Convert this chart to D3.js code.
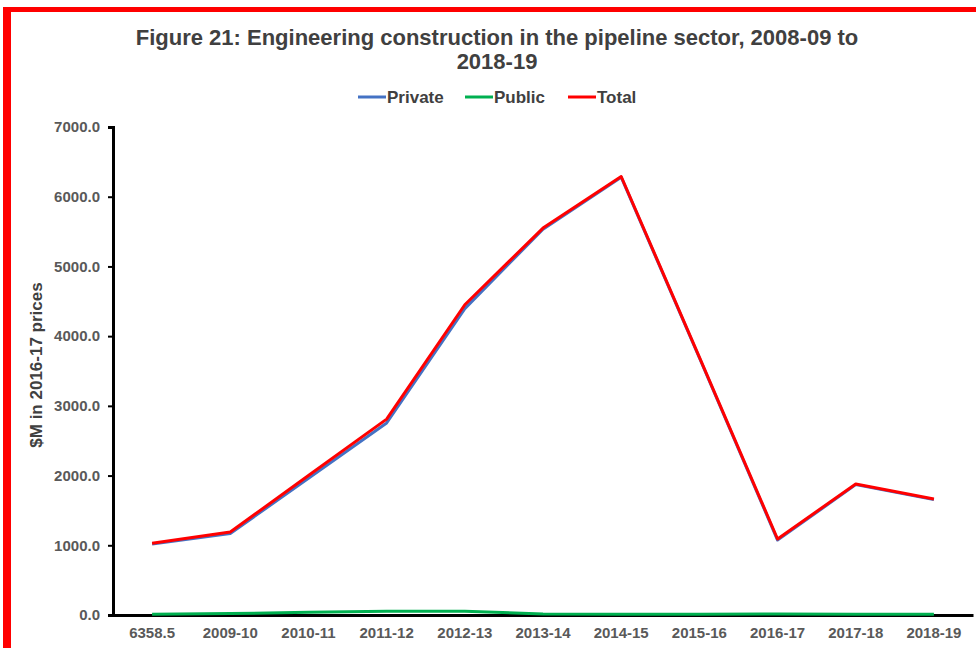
<!DOCTYPE html>
<html>
<head>
<meta charset="utf-8">
<script src="https://cdn.jsdelivr.net/npm/d3@7"></script>
<style>
  body { margin: 0; background: #fff; }
  svg { display: block; font-family: "Liberation Sans", Arial, sans-serif; }
</style>
</head>
<body>
<div id="chart"></div>
<script>
// data
var years = ["6358.5", "2009-10", "2010-11", "2011-12", "2012-13", "2013-14", "2014-15", "2015-16", "2016-17", "2017-18", "2018-19"];
var total = [1030, 1190, 2000, 2810, 4450, 5550, 6290, 3700, 1090, 1880, 1665];
var publicVals = [10, 20, 40, 55, 55, 15, 10, 10, 15, 10, 10];
var privateVals = [1020, 1170, 1960, 2755, 4395, 5535, 6280, 3690, 1075, 1870, 1655];
var yTicks = [0, 1000, 2000, 3000, 4000, 5000, 6000, 7000];

var width = 976, height = 648;
var margin = {left: 113, right: 3, top: 127, bottom: 33};

var svg = d3.select("#chart").append("svg")
    .attr("width", width)
    .attr("height", height);

// red frame (top and left)
svg.append("rect").attr("x", 3).attr("y", 7).attr("width", width - 3).attr("height", 5).attr("fill", "#ff0000");
svg.append("rect").attr("x", 3).attr("y", 7).attr("width", 8).attr("height", height - 7).attr("fill", "#ff0000");

var x = d3.scaleBand()
    .domain(years)
    .range([margin.left, width - margin.right]);

var y = d3.scaleLinear()
    .domain([0, 7000])
    .range([height - margin.bottom, margin.top]);

// title
var title = svg.append("text")
    .attr("text-anchor", "middle")
    .attr("fill", "#404040")
    .style("font-size", "22px")
    .style("font-weight", "bold");
title.append("tspan").attr("x", 497).attr("y", 45).text("Figure 21: Engineering construction in the pipeline sector, 2008-09 to");
title.append("tspan").attr("x", 497).attr("y", 69).text("2018-19");

// legend
var legendItems = [
  {name: "Private", color: "#4472c4", x: 358},
  {name: "Public", color: "#00b050", x: 465},
  {name: "Total", color: "#ff0000", x: 568}
];
var lg = svg.selectAll(".lg").data(legendItems).enter().append("g")
    .attr("transform", function(d){ return "translate(" + d.x + ",97)"; });
lg.append("line").attr("x1", 0).attr("x2", 28).attr("y1", 0).attr("y2", 0)
    .attr("stroke", function(d){ return d.color; })
    .attr("stroke-width", 3);
lg.append("text").attr("x", 29).attr("y", 6)
    .attr("fill", "#404040")
    .style("font-size", "17px")
    .style("font-weight", "bold")
    .text(function(d){ return d.name; });

// y axis
var yAxis = svg.append("g")
    .attr("transform", "translate(" + margin.left + ",0)")
    .call(d3.axisLeft(y).tickValues(yTicks).tickSize(5).tickFormat(d3.format(".1f")));
yAxis.select(".domain").attr("stroke", "#000").attr("stroke-width", 3);
yAxis.selectAll(".tick line").attr("stroke", "#000").attr("stroke-width", 2);
yAxis.selectAll(".tick text")
    .attr("x", -13)
    .attr("fill", "#595959")
    .style("font-size", "15px")
    .style("font-weight", "bold")
    .style("font-family", "Liberation Sans, Arial, sans-serif");

// x axis
var xAxis = svg.append("g")
    .attr("transform", "translate(0," + (height - margin.bottom) + ")")
    .call(d3.axisBottom(x).tickSize(0).tickSizeOuter(0));
xAxis.select(".domain").attr("stroke", "#000").attr("stroke-width", 3);
xAxis.selectAll(".tick text")
    .attr("y", 12)
    .attr("fill", "#595959")
    .style("font-size", "15px")
    .style("font-weight", "bold")
    .style("font-family", "Liberation Sans, Arial, sans-serif");

// y axis title
svg.append("text")
    .attr("transform", "translate(42,365) rotate(-90)")
    .attr("text-anchor", "middle")
    .attr("fill", "#404040")
    .style("font-size", "17px")
    .style("font-weight", "bold")
    .text("$M in 2016-17 prices");

var line = d3.line()
    .x(function(d, i){ return x(years[i]) + x.bandwidth() / 2; })
    .y(function(d){ return y(d); });

var series = [
  {values: privateVals, color: "#4472c4"},
  {values: publicVals, color: "#00b050"},
  {values: total, color: "#ff0000"}
];

svg.selectAll(".series").data(series).enter().append("path")
    .attr("d", function(d){ return line(d.values); })
    .attr("fill", "none")
    .attr("stroke", function(d){ return d.color; })
    .attr("stroke-width", 3)
    .attr("stroke-linejoin", "round");
</script>
</body>
</html>
